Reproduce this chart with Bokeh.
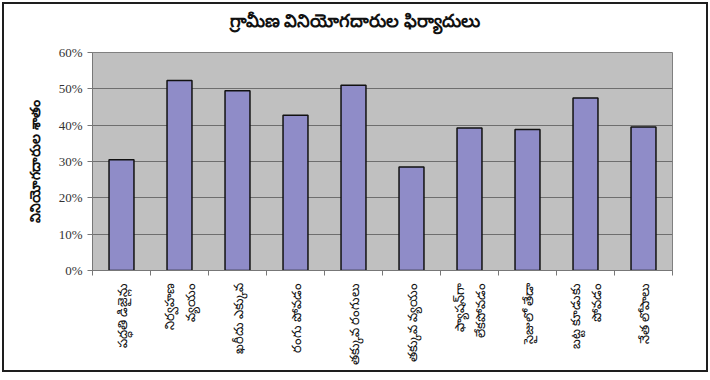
from math import pi

from bokeh.embed import file_html
from bokeh.layouts import column
from bokeh.models import (ColumnDataSource, Div, FixedTicker,
                          NumeralTickFormatter, Range1d)
from bokeh.plotting import figure
from bokeh.resources import INLINE

# Complaint categories (two-line labels use a line break) and share of consumers
complaints = [
    "పద్ధతి డిజైన్లు",
    "నిర్వహణ\nవ్యయం",
    "ఖరీదు ఎక్కువ",
    "రంగు పోవడం",
    "తక్కువ రంగులు",
    "తక్కువ వ్యయం",
    "ఫ్యాషన్‌గా\nలేకపోవడం",
    "సైజులో తేడా",
    "బట్ట కూడుకు\nపోవడం",
    "నేత లోపాలు",
]
shares = [0.305, 0.523, 0.495, 0.427, 0.51, 0.285, 0.392, 0.388, 0.475, 0.395]
y_ticks = [0.0, 0.1, 0.2, 0.3, 0.4, 0.5, 0.6]

title_text = "గ్రామీణ వినియోగదారుల ఫిర్యాదులు"
y_label = "వినియోగదారుల శాతం"

# bars sit in the middle of each category slot
slots = list(range(len(complaints)))
centers = [i + 0.5 for i in slots]
source = ColumnDataSource(data=dict(x=centers, share=shares, name=complaints))

# heading line across the whole chart
heading = Div(
    text=title_text, width=702, height=30, margin=0,
    styles={"text-align": "center", "font-family": "Noto Sans",
            "font-weight": "bold", "font-size": "18px", "line-height": "32px",
            "color": "#111111", "width": "702px"},
)

p = figure(
    width=702, height=336,
    x_range=Range1d(0, len(complaints)), y_range=Range1d(0, y_ticks[-1]),
    output_backend="svg", toolbar_location=None,
    min_border_left=88, min_border_right=34,
    min_border_top=18, min_border_bottom=100,
    background_fill_color="#c0c0c0", border_fill_color="white",
    margin=0,
)

p.vbar(x="x", top="share", width=0.43, source=source,
       fill_color="#8f8cc8", line_color="#111111", line_width=1.5)

p.outline_line_color = "#808080"
p.outline_line_width = 1

# horizontal gridlines only
p.xgrid.visible = False
p.ygrid.ticker = FixedTicker(ticks=y_ticks)
p.ygrid.grid_line_color = "#6e6e6e"
p.ygrid.grid_line_width = 1

# y axis: percentages
p.yaxis.ticker = FixedTicker(ticks=y_ticks)
p.yaxis.formatter = NumeralTickFormatter(format="0%")
p.yaxis.major_label_text_font = "Liberation Serif"
p.yaxis.major_label_text_font_size = "13px"
p.yaxis.major_label_text_color = "#333333"
p.yaxis.major_tick_in = 0
p.yaxis.major_tick_out = 5
p.yaxis.minor_tick_line_color = None
p.yaxis.axis_line_color = "#777777"
p.yaxis.major_tick_line_color = "#777777"
p.yaxis.axis_label = y_label
p.yaxis.axis_label_text_font = "Noto Sans"
p.yaxis.axis_label_text_font_size = "14px"
p.yaxis.axis_label_text_font_style = "bold"
p.yaxis.axis_label_text_color = "#111111"
p.yaxis.axis_label_standoff = 12

# x axis: labels at the slot centres, tick marks between the slots
p.xaxis.ticker = FixedTicker(ticks=centers,
                             minor_ticks=[float(i) for i in range(len(complaints) + 1)])
p.xaxis.major_label_overrides = {c: n for c, n in zip(centers, complaints)}
p.xaxis.major_label_orientation = pi / 2
p.xaxis.major_label_text_font = "Noto Sans"
p.xaxis.major_label_text_font_size = "13px"
p.xaxis.major_label_text_color = "#111111"
p.xaxis.major_label_standoff = 6
p.xaxis.major_tick_line_color = None
p.xaxis.minor_tick_in = 0
p.xaxis.minor_tick_out = 5
p.xaxis.minor_tick_line_color = "#777777"
p.xaxis.axis_line_color = "#777777"

chart = column(heading, p, spacing=0)
chart.styles = {"border": "2px solid #1e1e1e", "margin": "2px",
                "background-color": "white"}

open("out.html", "w").write(file_html(chart, INLINE))
